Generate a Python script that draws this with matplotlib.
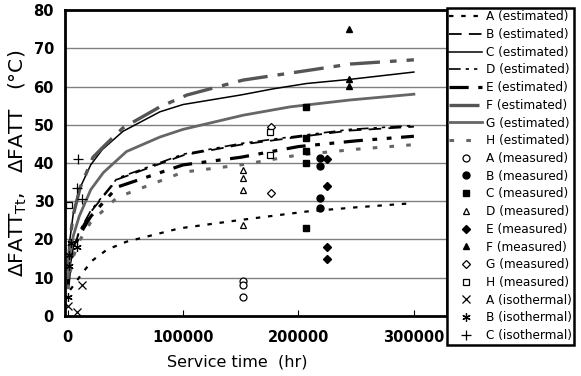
import matplotlib
matplotlib.use("Agg")
import matplotlib.pyplot as plt

# estimated curves (service time hr -> delta FATT degC)
t_A = [2200, 5000, 13700, 22000, 34000, 51000, 97000, 150000, 207000, 250000, 300000]
v_A = [6.8, 7.9, 11.6, 14.6, 17.3, 19.4, 22.9, 25.1, 27.3, 28.4, 29.5]

t_B = [500, 2000, 5000, 10000, 20000, 43000, 100000, 150000, 200000, 245000, 300000]
v_B = [8, 13, 17.8, 21.8, 27.2, 35.7, 42.0, 44.8, 46.8, 48.5, 49.5]

t_C = [500, 2000, 5000, 10000, 20000, 30000, 48000, 80000, 100000, 150000, 178000, 207000, 245000, 300000]
v_C = [12, 20, 27, 33, 39.5, 43.5, 48.3, 53.4, 55.3, 57.8, 59.4, 60.8, 61.9, 63.8]

t_D = [500, 2000, 5000, 10000, 20000, 43000, 100000, 150000, 200000, 245000, 300000]
v_D = [8, 13, 18, 22, 27.5, 36, 42.3, 45.1, 47.1, 48.8, 49.8]

t_E = [500, 2000, 5000, 10000, 20000, 43000, 100000, 150000, 200000, 250000, 300000]
v_E = [8, 13, 17, 21, 26, 33.7, 39.5, 41.5, 44.3, 45.8, 47]

t_F = [500, 2000, 5000, 10800, 22000, 32500, 48000, 80000, 103500, 152000, 201000, 245000, 300000]
v_F = [12, 20, 26.5, 33.5, 41.5, 44.7, 49.2, 54.7, 57.8, 61.7, 63.9, 65.9, 67]

t_G = [500, 2000, 5000, 10000, 20000, 31000, 51000, 80000, 100000, 152000, 193000, 245000, 300000]
v_G = [10, 16, 21, 26, 33, 37.5, 43, 46.8, 48.8, 52.5, 54.7, 56.5, 58]

t_H = [500, 2000, 5000, 10000, 20000, 43000, 100000, 150000, 200000, 250000, 300000]
v_H = [7, 11, 15.5, 19.5, 24.5, 31, 37.6, 39.5, 42.1, 43.6, 44.8]

# measured points
t_mA = [151700, 151700, 151700]
v_mA = [9.0, 8.1, 5.0]
t_mB = [218600, 218600, 218600, 218600]
v_mB = [41.2, 39.2, 30.9, 28.2]
t_mC = [206500, 206500, 206500, 206500, 206500]
v_mC = [54.7, 46.5, 43.2, 39.9, 23.1]
t_mD = [151700, 151700, 151700, 151700]
v_mD = [38.2, 36.0, 32.9, 23.8]
t_mE = [224400, 224400, 224400, 224400]
v_mE = [41.0, 34.1, 17.9, 14.8]
t_mF = [244000, 244000, 244000]
v_mF = [75.0, 62.1, 60.1]
t_mG = [176000, 176000]
v_mG = [49.5, 32.1]
t_mH = [1000, 175000, 175000]
v_mH = [29.0, 42.1, 48.0]

# isothermal ageing points
t_iA = [500, 8500, 12300]
v_iA = [2.5, 0.9, 8.1]
t_iB = [300, 800, 1500, 3000, 8000]
v_iB = [5, 13, 16, 19, 18]
t_iC = [9400, 8000, 12300]
v_iC = [41.0, 33.4, 30.5]

fig = plt.figure(figsize=(5.81, 3.76), dpi=100)
ax = fig.add_axes([0.112, 0.160, 0.657, 0.813])

ax.plot(t_A, v_A, color="black", lw=1.6, dashes=(2, 3.5), label="A (estimated)")
ax.plot(t_B, v_B, color="black", lw=1.3, dashes=(7, 4), label="B (estimated)")
ax.plot(t_C, v_C, color="black", lw=1.1, label="C (estimated)")
ax.plot(t_D, v_D, color="black", lw=1.2, dashes=(7, 3, 2, 3, 2, 3), label="D (estimated)")
ax.plot(t_E, v_E, color="black", lw=2.3, dashes=(6, 3, 1.5, 3, 1.5, 3), label="E (estimated)")
ax.plot(t_F, v_F, color="#555555", lw=2.4, dashes=(9, 3, 2, 3), label="F (estimated)")
ax.plot(t_G, v_G, color="#666666", lw=2.0, label="G (estimated)")
ax.plot(t_H, v_H, color="#666666", lw=2.2, dashes=(1.5, 4), label="H (estimated)")

ms = 5
ax.plot(t_mA, v_mA, "o", ls="none", mfc="white", mec="black", ms=ms, mew=0.9, label="A (measured)")
ax.plot(t_mB, v_mB, "o", ls="none", color="black", ms=ms, label="B (measured)")
ax.plot(t_mC, v_mC, "s", ls="none", color="black", ms=4.5, label="C (measured)")
ax.plot(t_mD, v_mD, "^", ls="none", mfc="white", mec="black", ms=ms, mew=0.9, label="D (measured)")
ax.plot(t_mE, v_mE, "D", ls="none", color="black", ms=4.5, label="E (measured)")
ax.plot(t_mF, v_mF, "^", ls="none", color="black", ms=ms, label="F (measured)")
ax.plot(t_mG, v_mG, "D", ls="none", mfc="white", mec="black", ms=4.5, mew=0.9, label="G (measured)")
ax.plot(t_mH, v_mH, "s", ls="none", mfc="white", mec="black", ms=4.5, mew=0.9, label="H (measured)")
ax.plot(t_iA, v_iA, "x", ls="none", color="black", ms=6, mew=0.9, label="A (isothermal)")
ax.plot(t_iB, v_iB, marker=(6, 2, 0), ls="none", color="black", ms=6, mew=0.9, label="B (isothermal)")
ax.plot(t_iC, v_iC, "+", ls="none", color="black", ms=7, mew=0.9, label="C (isothermal)")

ax.set_xlim(-2200, 328500)
ax.set_ylim(0, 80)
ax.set_yticks(range(0, 81, 10))
ax.set_xticks([0, 100000, 200000, 300000])
ax.tick_params(axis="y", length=0, pad=8, labelsize=10.5)
ax.tick_params(axis="x", direction="in", length=4, pad=10, labelsize=10.5)
for lab in ax.get_xticklabels() + ax.get_yticklabels():
    lab.set_fontweight("bold")
for y in range(10, 80, 10):
    ax.axhline(y, color="#808080", lw=1.0, zorder=0)
for s in ax.spines.values():
    s.set_linewidth(2.0)

fig.text(237 / 581, 1 - 362 / 376, "Service time  (hr)", fontsize=11.5,
         ha="center", va="center")
fig.text(18 / 581, 1 - 163 / 376, "ΔFATT$_{\\mathrm{Tt}}$,   ΔFATT   (°C)",
         fontsize=14.5, rotation=90, ha="center", va="center")

handles, labels = ax.get_legend_handles_labels()
leg = fig.legend(handles, labels, loc="upper left", bbox_to_anchor=(0.769, 0.979),
                 borderaxespad=0, fontsize=8.7, labelspacing=0.39, handlelength=2.7,
                 handletextpad=0.35, borderpad=0.2, fancybox=False, edgecolor="black",
                 framealpha=1)
leg.get_frame().set_linewidth(1.8)

fig.savefig("out.png", dpi=100)
